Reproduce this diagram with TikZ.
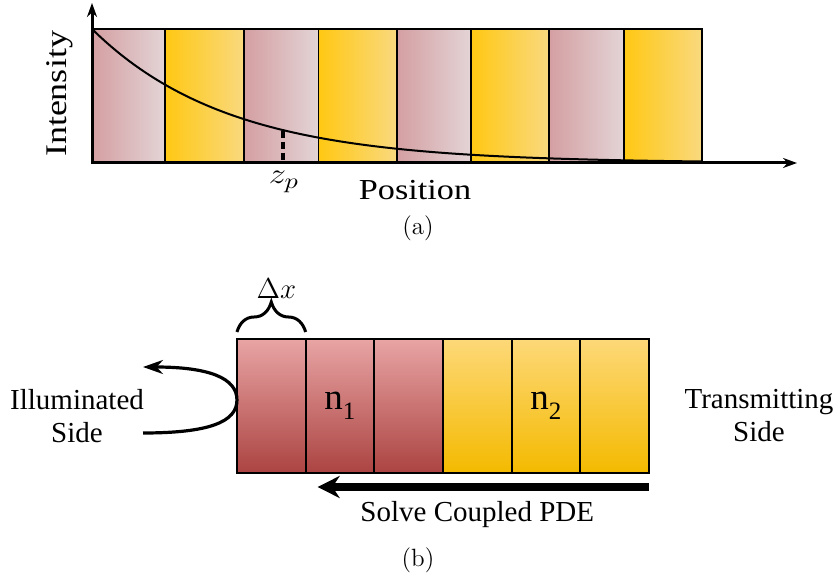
\documentclass[tikz,border=0pt]{standalone}
\usepackage{fontspec}
\newfontfamily\timesfont{LiberationSerif}[Extension=.ttf, UprightFont=*-Regular, BoldFont=*-Bold, ItalicFont=*-Italic]
\usepackage{tikz}
\usetikzlibrary{positioning,calc,arrows.meta,decorations.pathreplacing}
\definecolor{RoseLeft}{HTML}{D49FA2}
\definecolor{RoseRight}{HTML}{E3D4D6}
\definecolor{GoldLeft}{HTML}{FFC813}
\definecolor{GoldRight}{HTML}{F9D97F}
\definecolor{RedTop}{HTML}{E8A4A4}
\definecolor{RedBottom}{HTML}{AB4442}
\definecolor{AmberTop}{HTML}{FDD878}
\definecolor{AmberBottom}{HTML}{F4BA00}

\tikzset{
  rosestrip/.style={draw=black, line width=0.65pt, left color=RoseLeft, right color=RoseRight},
  goldstrip/.style={draw=black, line width=0.65pt, left color=GoldLeft, right color=GoldRight},
  cellbox/.style={draw=black, line width=1pt, minimum width=34.33pt, minimum height=67pt,
    inner sep=0pt, outer sep=0pt, font=\timesfont\fontsize{18.5}{19}\selectfont},
  redcell/.style={cellbox, top color=RedTop, bottom color=RedBottom},
  ambercell/.style={cellbox, top color=AmberTop, middle color=AmberTop, bottom color=AmberBottom},
  sidetext/.style={font=\timesfont\fontsize{14.5}{16.5}\selectfont, align=center},
  axislabel/.style={font=\timesfont\fontsize{14.5}{16}\selectfont, xscale=1.18},
  caption/.style={font=\fontsize{12.5}{14}\selectfont},
  mathlabel/.style={font=\fontsize{15}{17}\selectfont},
}
\newcommand{\subidx}[1]{\raisebox{-5pt}{\fontsize{12.5}{13}\selectfont #1}}

\begin{document}
\begin{tikzpicture}[x=0.5pt, y=-0.5pt]
  \useasboundingbox (0,0) rectangle (838,581);

  %% (a) layered stack with intensity decay
  \foreach \xa/\xb in {92/165, 244/318.5, 397/471, 549/624}
    \draw[rosestrip] (\xa,29) rectangle (\xb,163);
  \foreach \xa/\xb in {165/244, 318.5/397, 471/549, 624/702}
    \draw[goldstrip] (\xa,29) rectangle (\xb,163);
  %% axes
  \draw[line width=1.5pt, -{Stealth[length=7pt, width=5pt]}] (92,163) -- (92,3);
  \draw[line width=1.5pt, -{Stealth[length=7pt, width=5pt]}] (92,163) -- (797,163);
  %% decay curve
  \draw[line width=1pt, domain=92:702, samples=90, smooth]
    plot (\x, {163-134*exp(-(\x-92)/136)});
  \coordinate (zpTop) at (283,131);
  \coordinate (zpBase) at (283,163);
  \draw[line width=1.6pt, dash pattern=on 3.5pt off 2pt] (zpTop) -- (zpBase);
  %% labels
  \node[mathlabel, xscale=1.2] (zpLabel) at (284,182) {$z_p$};
  \node[axislabel] (posLabel) at (415,190) {Position};
  \node[font=\timesfont\fontsize{15}{17}\selectfont, rotate=90, xscale=1.2]
    (intLabel) at (60,94) {Intensity};
  \node[caption] (capA) at (418,228) {(a)};

  %% (b) discretised slab
  \node[redcell] (c1) at (271.3,406) {};
  \node[redcell, right=0pt of c1] (c2) {n\subidx{1}};
  \node[redcell, right=0pt of c2] (c3) {};
  \node[ambercell, right=0pt of c3] (c4) {};
  \node[ambercell, right=0pt of c4] (c5) {n\subidx{2}};
  \node[ambercell, right=0pt of c5] (c6) {};
  %% cell width brace
  \draw[line width=1.5pt, decorate, decoration={brace, amplitude=15pt}]
    ($(c1.north west)+(0,-7)$) -- ($(c1.north east)+(0,-7)$);
  \node[mathlabel] (dxLabel) at ($(c1.north)+(5,-50)$) {$\Delta x$};
  %% reflected light
  \coordinate (lightIn) at (143,433);
  \coordinate (lightOut) at (143,367);
  \coordinate (bounce) at ($(c1.west)+(0,-6)$);
  \draw[line width=1.6pt, -{Stealth[length=10pt, width=7pt]}]
    (lightIn) .. controls +(66,0) and +(0,22) .. (bounce)
    .. controls +(0,-22) and +(66,0) .. (lightOut);
  \node[sidetext] (illumLabel) at (77,416) {Illuminated\\Side};
  \node[sidetext] (transLabel) at (759,416) {Transmitting\\Side};
  %% solve direction
  \coordinate (solveFrom) at ($(c6.south east)+(0,14)$);
  \coordinate (solveTo) at ($(c2.south west)+(12,14)$);
  \draw[line width=3.6pt, -{Stealth[length=11pt, width=11pt]}] (solveFrom) -- (solveTo);
  \node[sidetext] (solveLabel) at ($(c4.south)+(0,42)$) {Solve Coupled PDE};
  \node[caption] (capB) at (418,560) {(b)};
\end{tikzpicture}
\end{document}
